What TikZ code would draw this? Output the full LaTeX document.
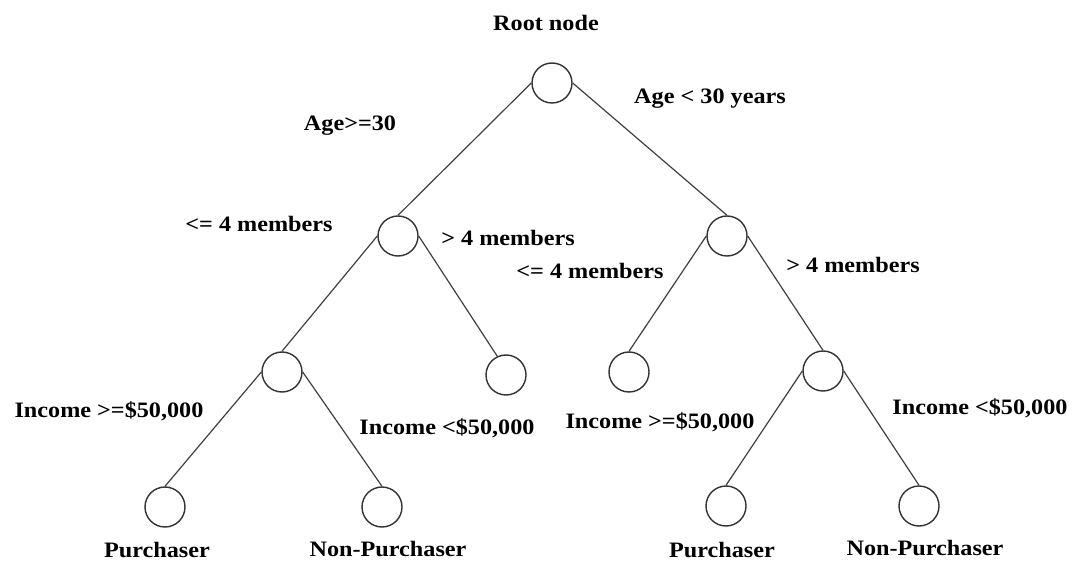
\documentclass[tikz,border=0pt]{standalone}
\usepackage{fontspec}
\setmainfont{Liberation Serif}[FakeStretch=1.1]
\begin{document}
\begin{tikzpicture}[x=1pt,y=-1pt,
  tnode/.style={circle,draw=black!80,line width=1.4pt,fill=white,
                minimum size=40pt,inner sep=0pt},
  edge/.style={draw=black!75,line width=1.2pt},
  lbl/.style={inner sep=0pt,font=\fontsize{22}{26}\selectfont\bfseries}]
\useasboundingbox (0,0) rectangle (1074,561);

% tree nodes
\node[tnode] (root) at (552,83) {};
\node[tnode] (a)  at (398,236) {};
\node[tnode] (b)  at (727,236) {};
\node[tnode] (aa) at (282,372) {};
\node[tnode] (ab) at (506,375) {};
\node[tnode] (ba) at (629,372) {};
\node[tnode] (bb) at (823,371) {};
\node[tnode] (aaa) at (165,507) {};
\node[tnode] (aab) at (382,507) {};
\node[tnode] (bba) at (726,506) {};
\node[tnode] (bbb) at (919,506) {};

% branches
\draw[edge] (root.west) -- (a.north);
\draw[edge] (root.east) -- (b.north);
\draw[edge] (a.west) -- (aa.north);
\draw[edge] (a.east) -- (ab.115);
\draw[edge] (b.west) -- (ba.north);
\draw[edge] (b.east) -- (bb.north);
\draw[edge] (aa.west) -- (aaa.north);
\draw[edge] (aa.east) -- (aab.north);
\draw[edge] (bb.west) -- (bba.north);
\draw[edge] (bb.east) -- (bbb.north);

% labels
\node[lbl] (t0) at (546,23) {Root node};
\node[lbl] (t1) at (710,99) {Age < 30 years};
\node[lbl] (t2) at (350,126) {Age>=30};
\node[lbl] (t3) at (259,224) {<= 4 members};
\node[lbl] (t4) at (508,238) {> 4 members};
\node[lbl] (t5) at (590,271) {<= 4 members};
\node[lbl] (t6) at (853,265) {> 4 members};
\node[lbl] (t7) at (109,411) {Income >=\$50,000};
\node[lbl] (t8) at (447,428) {Income <\$50,000};
\node[lbl] (t9) at (660,422) {Income >=\$50,000};
\node[lbl] (t10) at (980,408) {Income <\$50,000};
\node[lbl] (t11) at (157,550) {Purchaser};
\node[lbl] (t12) at (388,549) {Non-Purchaser};
\node[lbl] (t13) at (722,550) {Purchaser};
\node[lbl] (t14) at (925,548) {Non-Purchaser};
\end{tikzpicture}
\end{document}
